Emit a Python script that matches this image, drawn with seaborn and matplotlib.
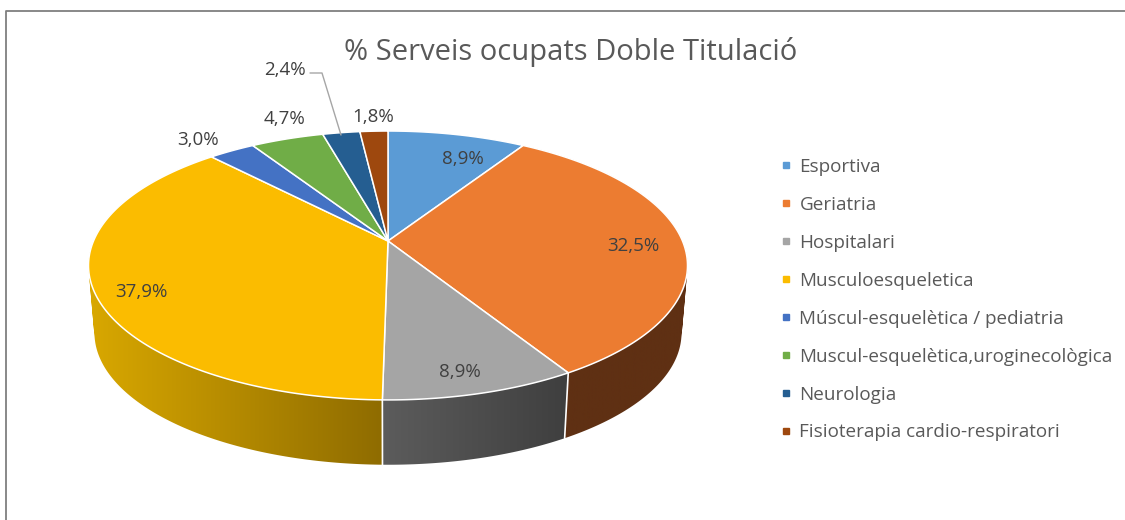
import numpy as np
import matplotlib
matplotlib.use('Agg')
import matplotlib.pyplot as plt
from matplotlib.colors import LinearSegmentedColormap
from matplotlib.lines import Line2D
from matplotlib.patches import PathPatch
from matplotlib.path import Path
import seaborn as sns

# Data
categories = ['Esportiva', 'Geriatria', 'Hospitalari', 'Musculoesqueletica',
              'Múscul-esquelètica / pediatria', 'Muscul-esquelètica,uroginecològica',
              'Neurologia', 'Fisioterapia cardio-respiratori']
values = [8.9, 32.5, 8.9, 37.9, 3.0, 4.7, 2.4, 1.8]
value_labels = ['8,9%', '32,5%', '8,9%', '37,9%', '3,0%', '4,7%', '2,4%', '1,8%']
title = '% Serveis ocupats Doble Titulació'

# Styling
slice_colors = sns.color_palette(['#5B9BD5', '#EC7C31', '#A5A5A5', '#FBBC00',
                                  '#4472C4', '#70AD47', '#255E91', '#9E480E'])
wall_left = {1: '#5F3013', 2: '#5C5C5C', 3: '#D9A800'}
wall_right = {1: '#5F3013', 2: '#3F3F3F', 3: '#8F6C00'}
label_x = [463, 633, 460, 141, 198, 284, 285, 373]
label_y = [159, 246, 372, 292, 140, 119, 70, 117]

sns.set_theme(style='white')
plt.rcParams['font.family'] = ['Open Sans', 'DejaVu Sans']

# Pie geometry in pixels, tilted disc seen in perspective
CX, CY = 388, 241
A, B, K = 294.5, 130, 0.182
DROP, SHRINK = 68, 0.98


def top_edge(theta):
    u, v = np.sin(theta), np.cos(theta)
    w = 1 + K * v
    return CX + A * u / w, CY - B * v / w


def low_edge(theta):
    x, y = top_edge(theta)
    return CX + (x - CX) * SHRINK, CY + DROP + (y - CY) * SHRINK


fig, ax = plt.subplots(figsize=(11.25, 5.2), dpi=100)
fig.subplots_adjust(0, 0, 1, 1)
ax.axis('off')

# Chart frame
ax.plot([6, 6, 1125], [520, 10.5, 10.5], color='#7f7f7f', lw=1.3)

shares = np.array(values) / sum(values)
bounds = np.concatenate([[0], np.cumsum(shares)]) * 2 * np.pi

# Side walls first, the top of the pie covers whatever is behind
for i in wall_left:
    t = np.linspace(bounds[i], min(bounds[i + 1], 1.6 * np.pi), 160)
    x_top, y_top = top_edge(t)
    x_low, y_low = low_edge(t)
    # one small quad per step, all wound the same way or the fold at the sides leaves a hole
    quads = []
    for j in range(len(t) - 1):
        qx = np.array([x_top[j], x_top[j + 1], x_low[j + 1], x_low[j]])
        qy = np.array([y_top[j], y_top[j + 1], y_low[j + 1], y_low[j]])
        area = np.sum(qx * np.roll(qy, -1) - np.roll(qx, -1) * qy)
        if area < 0:
            qx, qy = qx[::-1], qy[::-1]
        quads.append(Path(np.c_[np.r_[qx, qx[0]], np.r_[qy, qy[0]]], closed=True))
    wall = PathPatch(Path.make_compound_path(*quads), transform=ax.transData,
                     facecolor='none', edgecolor='none')
    ax.add_patch(wall)
    cmap = LinearSegmentedColormap.from_list('wall', [wall_left[i], wall_right[i]])
    x_vals = np.r_[x_top, x_low]
    y_vals = np.r_[y_top, y_low]
    im = ax.imshow(np.linspace(0, 1, 256)[None, :], cmap=cmap, aspect='auto', zorder=2,
                   extent=[x_vals.min(), x_vals.max(), y_vals.max(), y_vals.min()])
    im.set_clip_path(wall)

# White seams between the walls
for i in [2, 3]:
    x0, y0 = top_edge(bounds[i])
    x1, y1 = low_edge(bounds[i])
    ax.plot([x0, x1], [y0, y1], color='white', lw=1.2, zorder=3)

# Top of the pie
for i, color in enumerate(slice_colors):
    t = np.linspace(bounds[i], bounds[i + 1], 120)
    x, y = top_edge(t)
    ax.fill(np.r_[CX, x], np.r_[CY, y], facecolor=color, edgecolor='white', lw=1.1, zorder=4)

# Data labels and the leader line of the 2,4% slice
for lab, x, y in zip(value_labels, label_x, label_y):
    ax.text(x, y, lab, fontsize=13.5, color='#404040', ha='center', va='center', zorder=6)
ax.plot([310, 322, 341], [73, 73, 135], color='#a6a6a6', lw=1, zorder=5)

ax.text(571, 52, title, fontsize=21, color='#595959', ha='center', va='center')

handles = [Line2D([], [], ls='', marker='s', ms=4.5, color=c) for c in slice_colors]
ax.legend(handles, categories, loc='upper left', bbox_to_anchor=(780 / 1125, 1 - 158 / 520),
          frameon=False, fontsize=13.6, labelcolor='#595959', labelspacing=1.055,
          handlelength=0.6, handletextpad=0.43, borderpad=0, borderaxespad=0)

ax.set_xlim(0, 1125)
ax.set_ylim(520, 0)

fig.savefig('out.png', dpi=100)
